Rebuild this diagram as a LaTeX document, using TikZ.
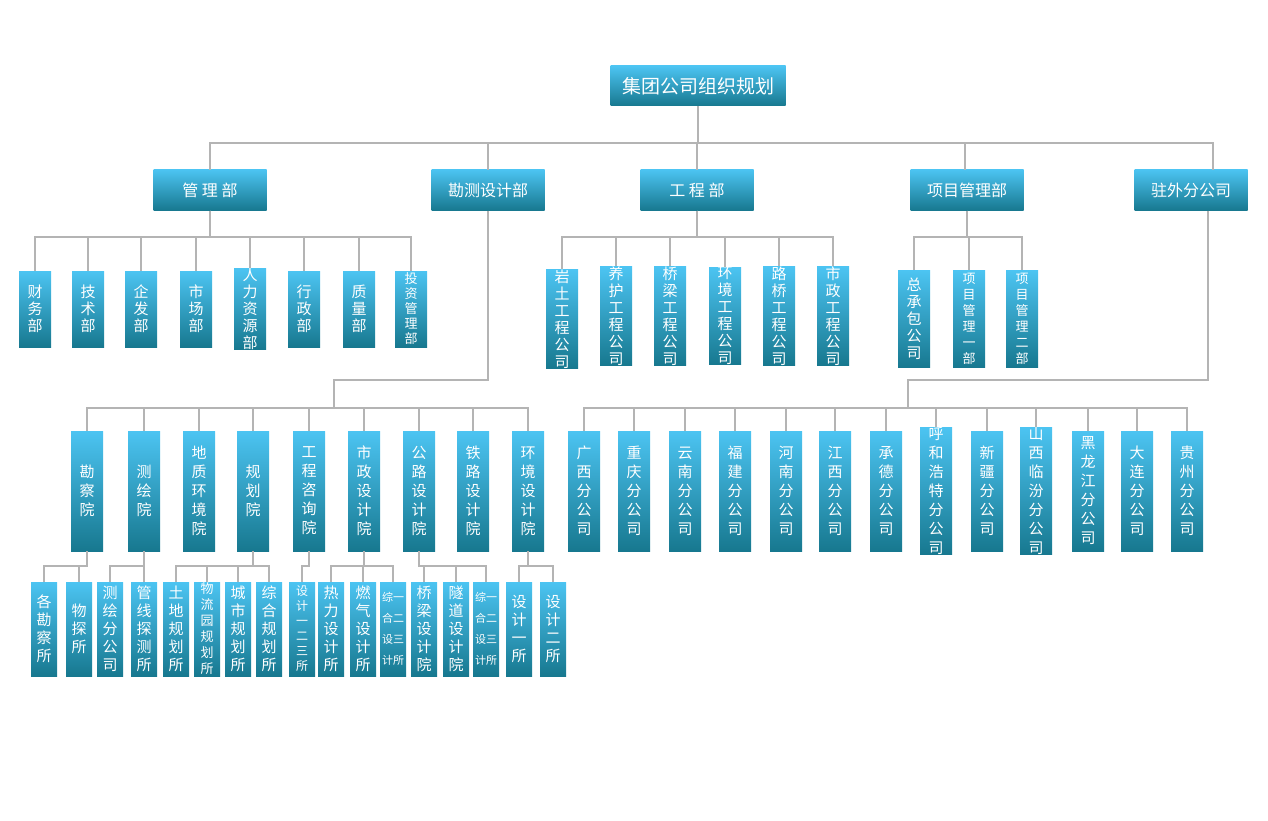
\documentclass[tikz,border=0pt]{standalone}
\usepackage{fontspec}
\setmainfont{Noto Sans CJK SC}
\definecolor{boxtop}{HTML}{4CC4F2}
\definecolor{boxbot}{HTML}{17788F}
\definecolor{wire}{HTML}{B4B4B4}
\tikzset{
  box/.style={top color=boxtop, bottom color=boxbot, text=white, inner sep=0pt, align=center},
  head/.style={box, minimum width=113pt, minimum height=41pt, font=\fontsize{16}{18}\selectfont},
  sub/.style={box, minimum width=32pt, minimum height=76pt, font=\fontsize{15}{17}\selectfont},
  gc/.style={box, minimum width=32pt, minimum height=97pt, font=\fontsize{15}{17}\selectfont},
  mid/.style={box, minimum width=32pt, minimum height=120pt, font=\fontsize{15}{19}\selectfont},
  low/.style={box, minimum width=26pt, minimum height=94pt, font=\fontsize{15}{18}\selectfont},
  tiny/.style={low, font=\fontsize{11}{21}\selectfont},
  wires/.style={draw=wire, line width=2.5pt},
}
\begin{document}
\begin{tikzpicture}[x=1pt, y=-1pt]
  \useasboundingbox (0,0) rectangle (1268,821);
  % top
  \node[box, minimum width=175pt, minimum height=40pt, font=\fontsize{19}{21}\selectfont] (root) at (698,86) {集团公司组织规划};
  \node[head] (gl) at (210,190) {管 理 部};
  \node[head] (ks) at (488,190) {勘测设计部};
  \node[head] (gc) at (697,190) {工 程 部};
  \node[head] (xm) at (967,190) {项目管理部};
  \node[head] (zw) at (1191,190) {驻外分公司};
  \coordinate (bus) at (0,143);
  \foreach \n/\x in {gl/210, ks/488, gc/697, xm/965, zw/1213}
    \draw[wires] (root.south) |- (bus -| \x,0) -- (\x,170);
  % management
  \foreach \n/\x/\t in {a1/35/财\\务\\部, a2/88/技\\术\\部, a3/141/企\\发\\部, a4/196/市\\场\\部,
      a5/250/人\\力\\资\\源\\部, a6/304/行\\政\\部, a7/359/质\\量\\部}
    \node[sub] (\n) at (\x,309) {\t};
  \node[sub, font=\fontsize{13}{15}\selectfont] (a8) at (411,309) {投\\资\\管\\理\\部};
  \foreach \n in {a1,a2,a3,a4,a5,a6,a7,a8}
    \draw[wires] (gl.south) |- (\n.north |- 0,237) -- (\n.north);
  % engineering
  \node[gc] (b1) at (562,319) {岩\\土\\工\\程\\公\\司};
  \foreach \n/\x/\t in {b2/616/养\\护, b3/670/桥\\梁, b4/725/环\\境, b5/779/路\\桥, b6/833/市\\政}
    \node[gc] (\n) at (\x,316) {\t\\工\\程\\公\\司};
  \foreach \n in {b1,b2,b3,b4,b5,b6}
    \draw[wires] (gc.south) |- (\n.north |- 0,237) -- (\n.north);
  % projects
  \node[gc] (c1) at (914,319) {总\\承\\包\\公\\司};
  \node[gc, font=\fontsize{13}{16}\selectfont] (c2) at (969,319) {项\\目\\管\\理\\一\\部};
  \node[gc, font=\fontsize{13}{16}\selectfont] (c3) at (1022,319) {项\\目\\管\\理\\二\\部};
  \foreach \n in {c1,c2,c3}
    \draw[wires] (xm.south) |- (\n.north |- 0,237) -- (\n.north);
  % survey and design institutes
  \coordinate (kj) at (334,408);
  \draw[wires] (ks.south) -- (ks.south |- 0,380) -| (kj);
  \foreach \n/\x/\t in {d1/87/勘\\察\\院, d2/144/测\\绘\\院, d3/199/地\\质\\环\\境\\院, d4/253/规\\划\\院,
      d5/309/工\\程\\咨\\询\\院, d6/364/市\\政\\设\\计\\院, d7/419/公\\路\\设\\计\\院,
      d8/473/铁\\路\\设\\计\\院, d9/528/环\\境\\设\\计\\院}
    {\node[mid] (\n) at (\x,491) {\t};
     \draw[wires] (kj) -| (\n.north);}
  % branches
  \coordinate (zj) at (908,408);
  \draw[wires] (zw.south -| 1208,0) -- (1208,380) -| (zj);
  \foreach \n/\x/\t in {e1/584/广\\西, e2/634/重\\庆, e3/685/云\\南, e4/735/福\\建, e5/786/河\\南,
      e6/835/江\\西, e7/886/承\\德, e8/936/呼\\和\\浩\\特, e9/987/新\\疆, e10/1036/山\\西\\临\\汾,
      e11/1088/黑\\龙\\江, e12/1137/大\\连, e13/1187/贵\\州}
    {\node[mid] (\n) at (\x,491) {\t\\分\\公\\司};
     \draw[wires] (zj) -| (\n.north);}
  % lower row
  \foreach \n/\x/\t in {f1/44/各\\勘\\察\\所, f2/79/物\\探\\所, f3/110/测\\绘\\分\\公\\司, f4/144/管\\线\\探\\测\\所,
      f5/176/土\\地\\规\\划\\所, f7/238/城\\市\\规\\划\\所, f8/269/综\\合\\规\\划\\所,
      f10/331/热\\力\\设\\计\\所, f11/363/燃\\气\\设\\计\\所, f13/424/桥\\梁\\设\\计\\院,
      f14/456/隧\\道\\设\\计\\院, f16/519/设\\计\\一\\所, f17/553/设\\计\\二\\所}
    \node[low] (\n) at (\x,629) {\t};
  \node[low, font=\fontsize{13}{16}\selectfont] (f6) at (207,629) {物\\流\\园\\规\\划\\所};
  \node[low, font=\fontsize{12}{15}\selectfont] (f9) at (302,629) {设\\计\\一\\二\\三\\所};
  \node[tiny] (f12) at (393,629) {综一\\合二\\设三\\计所};
  \node[tiny] (f15) at (486,629) {综一\\合二\\设三\\计所};
  \foreach \p/\c in {d1/f1, d1/f2, d2/f3, d2/f4, d4/f5, d4/f6, d4/f7, d4/f8, d5/f9,
      d6/f10, d6/f11, d6/f12, d7/f13, d7/f14, d7/f15, d9/f16, d9/f17}
    \draw[wires] (\p.south) |- (\c.north |- 0,566) -- (\c.north);
\end{tikzpicture}
\end{document}
